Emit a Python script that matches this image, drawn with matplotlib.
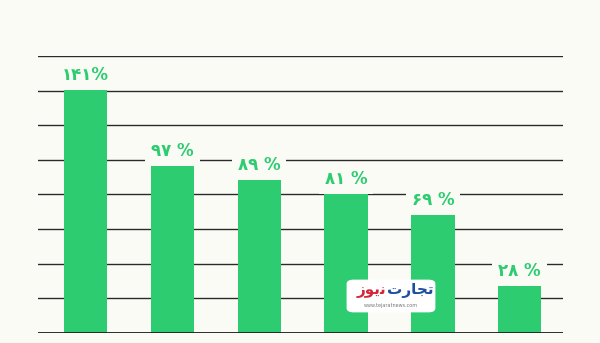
import matplotlib
matplotlib.use('Agg')
from matplotlib import pyplot as plt
from matplotlib.patches import FancyBboxPatch

# data
values = [141, 97, 89, 81, 69, 28]
labels = ['۱۴۱%', '۹۷ %', '۸۹ %', '۸۱ %', '۶۹ %', '۲۸ %']
grid_ticks = [0, 20, 40, 60, 80, 100, 120, 140, 160]

bg = '#fbfbf6'
green = '#2ecc71'

fig = plt.figure(figsize=(6, 3.43), dpi=100, facecolor=bg)
ax = fig.add_axes([0.0633, 0.029, 0.875, 0.808])
ax.set_facecolor(bg)

x = list(range(len(values)))
ax.set_xlim(-0.55, 5.5)
ax.set_ylim(0, 160)

for t in grid_ticks:
    ax.axhline(t, color='#2a2a2a', lw=1.0, zorder=1)
ax.axhline(0, color='#1e1e1e', lw=2, zorder=4)

ax.bar(x, values, width=0.5, color=green, zorder=3)

for xi, v, lab in zip(x, values, labels):
    ax.text(xi, v + 8, lab, ha='center', va='center', fontsize=12,
            fontweight='bold', color=green, family='DejaVu Sans', zorder=5,
            bbox=dict(boxstyle='square,pad=0.35', fc=bg, ec='none'))

for s in ax.spines.values():
    s.set_visible(False)
ax.set_xticks([])
ax.set_yticks([])

# watermark logo
box = FancyBboxPatch((349 / 600, 32 / 343), 84 / 600, 30 / 343,
                     boxstyle='round,pad=0.004,rounding_size=0.012',
                     transform=fig.transFigure, fc='white', ec='none', zorder=10)
fig.patches.append(box)
nivz = '\uFEAF\uFEEE\uFBFE\uFEE7'
tejarat = '\uFE95\uFEAD\uFE8E\uFEA0\uFE97'
fig.text(386 / 600, 52 / 343, nivz, ha='right', va='center', fontsize=11,
         fontweight='bold', color='#d3263a', zorder=11)
fig.text(387 / 600, 52 / 343, tejarat, ha='left', va='center', fontsize=11,
         fontweight='bold', color='#1d4f9c', zorder=11)
fig.text(391 / 600, 38 / 343, 'www.tejaratnews.com', ha='center', va='center',
         fontsize=3.5, color='#777777', zorder=11)

fig.savefig('out.png', dpi=100, facecolor=bg)
